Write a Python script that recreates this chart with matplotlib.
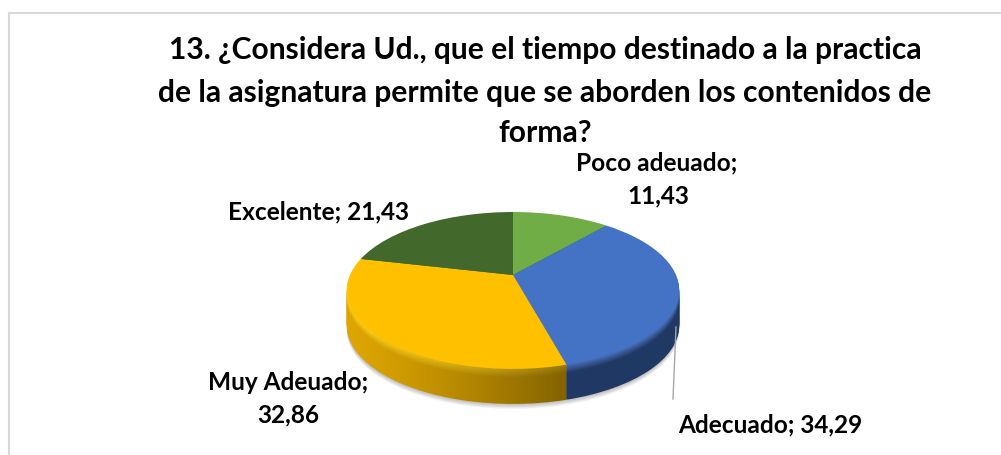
import numpy as np
import matplotlib
matplotlib.use('Agg')
import matplotlib.pyplot as plt
from matplotlib.colors import to_rgb
from matplotlib.path import Path
from matplotlib.transforms import Transform

plt.rcParams['font.family'] = ['Lato', 'DejaVu Sans']

title_lines = ['13. ¿Considera Ud., que el tiempo destinado a la practica',
               'de la asignatura permite que se aborden los contenidos de',
               'forma?']
categories = ['Poco adeuado', 'Adecuado', 'Muy Adeuado', 'Excelente']
values = [11.43, 34.29, 32.86, 21.43]
top_colors = ['#70ad47', '#4472c4', '#ffc000', '#43682b']


class Tilt(Transform):
    # unit circle -> pixel coords, front of the disc drawn bigger
    input_dims = 2
    output_dims = 2

    def __init__(self, drop=0):
        super().__init__()
        self.drop = drop

    def transform_non_affine(self, xy):
        xy = np.asarray(xy)
        w = 1 + 0.197 * xy[:, 1]
        return np.column_stack([513 + 163 * xy[:, 0] / w,
                                276 - 75.4 * xy[:, 1] / w + self.drop])


def draw_disc(ax, colors, drop, zorder):
    wedges, _ = ax.pie(values, colors=colors, startangle=90, counterclock=False)
    for w in wedges:
        w.set_transform(Tilt(drop) + ax.transData)
        w.set_zorder(zorder)
        w.set_linewidth(0)
    return wedges


def blend(c1, c2, t):
    return tuple((1 - t) * a + t * b for a, b in zip(to_rgb(c1), to_rgb(c2)))


fig = plt.figure(figsize=(10.01, 4.56), dpi=100)
ax = fig.add_axes([0, 0, 1, 1])

# soft shadow under the disc
for d in (40, 39, 38, 37, 36):
    draw_disc(ax, [(0, 0, 0, 0.05)] * 4, d, 1.5)

depth = 35
yellow_paths = []
for d in range(depth, 0, -1):
    t = min(d / 9, 1)  # rounded edge of the disc, light to dark
    gold = blend('#ffd21f', '#dca500', t)
    navy = blend('#4a70b8', '#1f3864', t)
    w = draw_disc(ax, ['#43682b', navy, gold, '#43682b'], d, 2 + (depth - d) * 0.01)
    yellow_paths.append(w[2].get_path().transformed(w[2].get_patch_transform()).transformed(Tilt(d)))

# side of the yellow slice gets darker to the right
shade = np.zeros((1, 256, 4))
shade[0, :, 3] = np.linspace(0.0, 0.5, 256) ** 1.3
clip = Path.make_compound_path(*yellow_paths)
im = ax.imshow(shade, extent=(347, 566, 420, 250), aspect='auto', zorder=2.5)
im.set_clip_path(clip, transform=ax.transData)

draw_disc(ax, top_colors, 0, 3)

# leader line of Adecuado
ax.plot([676, 673], [328, 400], color='#a6a6a6', lw=1, zorder=4)

# chart frame
ax.plot([9, 9], [456, 14], color='#d9d9d9', lw=1.5, zorder=1)
ax.plot([9, 1001], [14, 14], color='#d9d9d9', lw=1.5, zorder=1)

for line, y in zip(title_lines, [50, 93, 133]):
    ax.text(545, y, line, ha='center', va='center', fontsize=21.6, fontweight='bold', color='black')

label_font = dict(ha='center', va='center', fontsize=17.6, fontweight='bold', color='black')
ax.text(657, 163, f'{categories[0]};', **label_font)
ax.text(658, 196, f'{values[0]:.2f}'.replace('.', ','), **label_font)
ax.text(770, 425, f'{categories[1]}; ' + f'{values[1]:.2f}'.replace('.', ','), **label_font)
ax.text(288, 383, f'{categories[2]};', **label_font)
ax.text(288, 415, f'{values[2]:.2f}'.replace('.', ','), **label_font)
ax.text(319, 212, f'{categories[3]}; ' + f'{values[3]:.2f}'.replace('.', ','), **label_font)

ax.set_aspect('auto')
ax.set_xlim(0, 1001)
ax.set_ylim(456, 0)
ax.axis('off')

plt.savefig('out.png', dpi=100)
